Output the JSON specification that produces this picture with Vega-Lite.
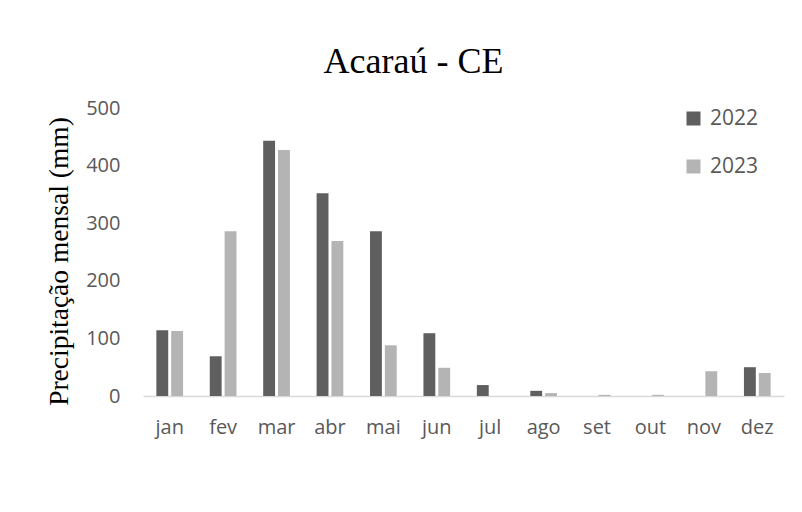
{
  "$schema": "https://vega.github.io/schema/vega-lite/v6.json",
  "width": 641,
  "height": 288,
  "autosize": {"type": "none"},
  "padding": {"left": 143, "top": 108, "right": 18, "bottom": 116},
  "background": "#ffffff",
  "title": {
    "text": "Acaraú - CE",
    "font": "Liberation Serif",
    "fontSize": 36,
    "fontWeight": "normal",
    "color": "#000000",
    "anchor": "middle",
    "dx": -50,
    "offset": 17
  },
  "data": {
    "values": [
      {"mes": "jan", "ano": "2022", "valor": 114},
      {"mes": "jan", "ano": "2023", "valor": 113},
      {"mes": "fev", "ano": "2022", "valor": 69},
      {"mes": "fev", "ano": "2023", "valor": 286},
      {"mes": "mar", "ano": "2022", "valor": 443},
      {"mes": "mar", "ano": "2023", "valor": 427},
      {"mes": "abr", "ano": "2022", "valor": 352},
      {"mes": "abr", "ano": "2023", "valor": 269},
      {"mes": "mai", "ano": "2022", "valor": 286},
      {"mes": "mai", "ano": "2023", "valor": 88},
      {"mes": "jun", "ano": "2022", "valor": 109},
      {"mes": "jun", "ano": "2023", "valor": 49},
      {"mes": "jul", "ano": "2022", "valor": 19},
      {"mes": "jul", "ano": "2023", "valor": 0},
      {"mes": "ago", "ano": "2022", "valor": 9},
      {"mes": "ago", "ano": "2023", "valor": 5},
      {"mes": "set", "ano": "2022", "valor": 0},
      {"mes": "set", "ano": "2023", "valor": 2},
      {"mes": "out", "ano": "2022", "valor": 0},
      {"mes": "out", "ano": "2023", "valor": 2},
      {"mes": "nov", "ano": "2022", "valor": 0},
      {"mes": "nov", "ano": "2023", "valor": 43},
      {"mes": "dez", "ano": "2022", "valor": 50},
      {"mes": "dez", "ano": "2023", "valor": 40}
    ]
  },
  "mark": {"type": "bar"},
  "encoding": {
    "x": {
      "field": "mes",
      "type": "nominal",
      "sort": ["jan", "fev", "mar", "abr", "mai", "jun", "jul", "ago", "set", "out", "nov", "dez"],
      "scale": {"paddingInner": 0.5, "paddingOuter": 0.25},
      "axis": {
        "title": null,
        "labelAngle": 0,
        "labelFont": "Open Sans",
        "labelFontSize": 20,
        "labelColor": "#595959",
        "labelPadding": 21,
        "ticks": false,
        "domainColor": "#d9d9d9",
        "domainWidth": 1.5,
        "grid": false
      }
    },
    "xOffset": {
      "field": "ano",
      "type": "nominal",
      "scale": {"paddingInner": 0.2, "paddingOuter": 0}
    },
    "y": {
      "field": "valor",
      "type": "quantitative",
      "scale": {"domain": [0, 500], "nice": false},
      "axis": {
        "title": "Precipitação mensal (mm)",
        "titleFont": "Liberation Serif",
        "titleFontSize": 27.5,
        "titleFontWeight": "normal",
        "titleColor": "#000000",
        "titlePadding": 12,
        "titleY": 153,
        "values": [0, 100, 200, 300, 400, 500],
        "labelFont": "Open Sans",
        "labelFontSize": 20,
        "labelColor": "#595959",
        "labelPadding": 23,
        "ticks": false,
        "domain": false,
        "grid": false
      }
    },
    "color": {
      "field": "ano",
      "type": "nominal",
      "scale": {"domain": ["2022", "2023"], "range": ["#5f5f5f", "#b4b4b4"]},
      "legend": {
        "title": null,
        "orient": "none",
        "legendX": 540,
        "legendY": 0,
        "symbolType": "square",
        "symbolSize": 196,
        "symbolStrokeWidth": 0,
        "labelFont": "Open Sans",
        "labelFontSize": 21,
        "labelColor": "#595959",
        "labelOffset": 6,
        "rowPadding": 26
      }
    }
  },
  "config": {
    "view": {"stroke": null}
  }
}
